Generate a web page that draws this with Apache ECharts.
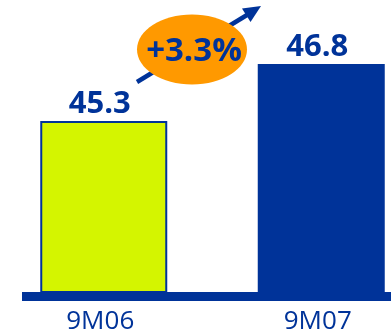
<!DOCTYPE html>
<html>
<head>
<meta charset="utf-8">
<script src="https://cdn.jsdelivr.net/npm/echarts@6/dist/echarts.min.js"></script>
<style>
  html, body { margin: 0; padding: 0; background: #fff; }
  #chart { width: 391px; height: 335px; }
</style>
</head>
<body>
<div id="chart"></div>
<script>
// Nine-month figures, previous year vs current year
const categories = ['9M06', '9M07'];
const values = [45.3, 46.8];
const barColors = ['#D4F500', '#003399'];

const navy = '#003399';
const growth = (values[1] / values[0] - 1) * 100;
const growthLabel = '+' + growth.toFixed(1) + '%';

const chart = echarts.init(document.getElementById('chart'));

chart.setOption({
  animation: false,
  backgroundColor: '#ffffff',
  grid: { left: -5, width: 435, top: 18.4, bottom: 43, outerBoundsMode: 'none', containLabel: false },
  xAxis: {
    type: 'category',
    data: categories,
    axisLine: { show: false },
    axisTick: { show: false },
    axisLabel: {
      color: navy,
      fontFamily: 'Open Sans',
      fontSize: 26,
      margin: 17,
      padding: [0, 7, 0, 0]
    }
  },
  yAxis: {
    type: 'value',
    min: 40.8,
    max: 48,
    show: false,
    splitLine: { show: false }
  },
  series: [{
    type: 'bar',
    barWidth: 127,
    data: values.map((v, i) => ({
      value: v,
      itemStyle: {
        color: barColors[i],
        borderColor: navy,
        borderWidth: i === 0 ? 2 : 0
      }
    })),
    label: {
      show: true,
      position: 'top',
      distance: 1,
      color: navy,
      fontFamily: 'Open Sans',
      fontWeight: 'bold',
      fontSize: 31,
      offset: [-4, 0],
      formatter: p => p.value.toFixed(1)
    }
  }],
  graphic: [
    // baseline under the bars
    { type: 'rect', shape: { x: 22, y: 292, width: 369, height: 9 }, style: { fill: navy }, z: 10 },
    // growth arrow
    { type: 'line', shape: { x1: 137, y1: 82, x2: 247, y2: 15 }, style: { stroke: navy, lineWidth: 4.5 }, z: 20 },
    { type: 'polygon', shape: { points: [[261, 6], [250.5, 22], [242, 8.5]] }, style: { fill: navy }, z: 20 },
    // growth badge
    { type: 'ellipse', shape: { cx: 192, cy: 49.5, rx: 55, ry: 35 }, style: { fill: '#FF9900' }, z: 30 },
    {
      type: 'text', x: 194, y: 52, z: 40,
      style: {
        text: growthLabel,
        fill: navy,
        font: 'bold 33px "Open Sans"',
        align: 'center',
        verticalAlign: 'middle'
      }
    }
  ]
});
</script>
</body>
</html>
